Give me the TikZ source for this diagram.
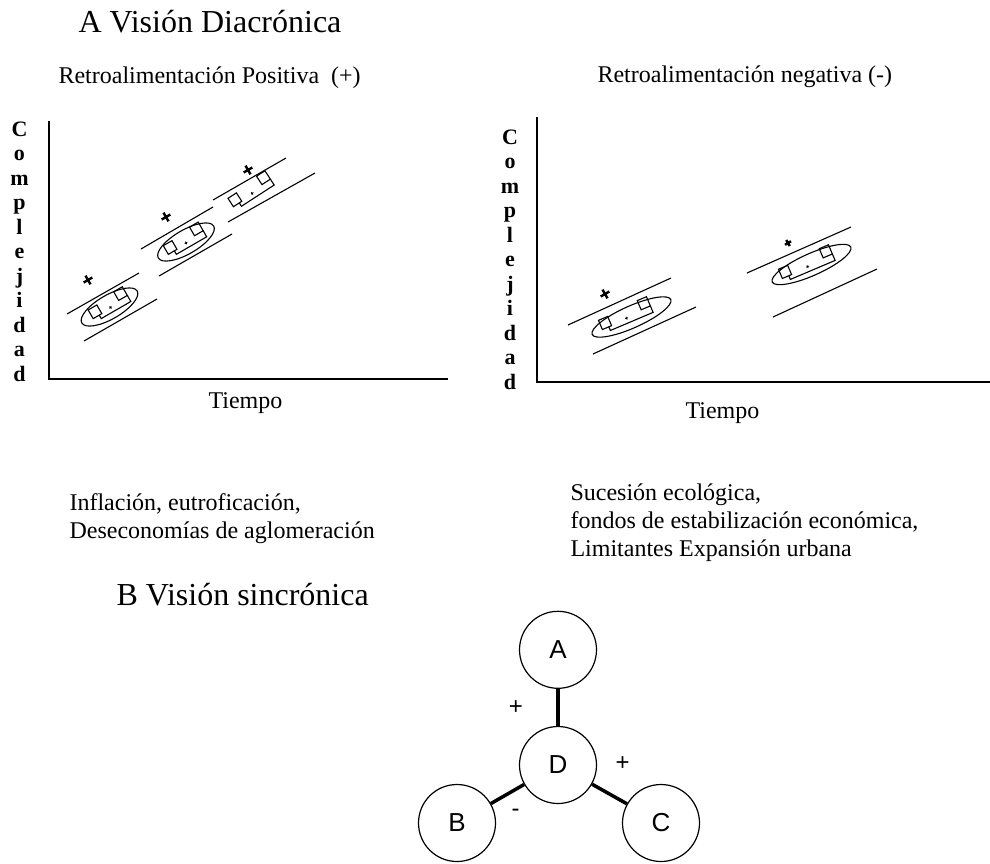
\documentclass[tikz,border=0pt]{standalone}
\usepackage{fontspec}
\setmainfont{Liberation Serif}
\newfontfamily\arial{Liberation Sans}
\usetikzlibrary{positioning}

% two small boxes tied under, with a little plus
\newcommand{\grupo}[4]{%
\begin{scope}[shift={(#1,#2)},rotate=#3]
\draw (-#4-5,-5) rectangle (-#4+5,5);
\draw (#4-5,-8) rectangle (#4+5,2);
\draw (-#4+2,5) -- (-#4+2,9) -- (#4+5,9) -- (#4+5,2);
\draw[line width=0.8pt] (-1.5,4) -- (1.5,4) (0,2.5) -- (0,5.5);
\end{scope}}
\newcommand{\marca}[3]{\draw[line width=2.4pt,rotate around={30:(#1,#2)}] (#1-#3,#2) -- (#1+#3,#2) (#1,#2-#3) -- (#1,#2+#3);}

\begin{document}
\begin{tikzpicture}[x=1pt,y=-1pt,line width=1.1pt,
  titulo/.style={font=\fontsize{32}{38}\selectfont,anchor=base west,inner sep=0},
  texto/.style={font=\fontsize{24}{28}\selectfont,anchor=base west,inner sep=0,align=left},
  letras/.style={font=\bfseries\fontsize{22}{24.5}\selectfont,anchor=north,inner sep=0,align=center},
  eje/.style={line width=1.4pt},
  nodo/.style={draw,circle,minimum size=77pt,inner sep=0,line width=1.2pt,font=\arial\fontsize{26}{30}\selectfont},
  enlace/.style={line width=3.5pt},
  signo/.style={font=\arial\fontsize{24}{28}\selectfont}]
\useasboundingbox (0,0) rectangle (990,863);

% A Vision Diacronica
\node[titulo] (tituloA) at (78,32) {A Visión Diacrónica};
\node[texto] (positiva) at (58,83) {Retroalimentación Positiva~ (+)};
\node[texto] (negativa) at (597,82) {Retroalimentación negativa (-)};

% left graph
\node[letras] (compizq) at (19.5,121) {C\\o\\m\\p\\l\\e\\j\\i\\d\\a\\d};
\draw[eje] (49,121) -- (49,379) -- (448,379);
\node[texto] (tiempoizq) at (208,408) {Tiempo};
\draw (67,314) -- (139,273);
\draw (84,341) -- (157,299);
\draw (141,249) -- (213,207);
\draw (159,276) -- (232,234);
\draw (213,200) -- (286,158);
\draw (228,222) -- (315,173);
\draw[rotate around={30:(109.5,307)}] (109.5,307) ellipse (32 and 12);
\draw[rotate around={30:(186,242)}] (186,242) ellipse (32 and 12);
\grupo{108.5}{304}{30}{15.6}
\grupo{184}{239.5}{30}{16}
\grupo{250}{190}{33}{18}
\marca{88}{280}{5}
\marca{166}{217}{5}
\marca{248}{170}{5}

% right graph
\node[letras] (compder) at (510,129) {C\\o\\m\\p\\l\\e\\j\\i\\d\\a\\d};
\draw[eje] (537,117) -- (537,382) -- (990,382);
\node[texto] (tiempoder) at (685,418) {Tiempo};
\draw (568,325) -- (671,278);
\draw (593,354) -- (696,307);
\draw (747,273) -- (851,227);
\draw (773,317) -- (877,269);
\draw[rotate around={24:(631.5,317)}] (631.5,317) ellipse (43 and 11);
\draw[rotate around={24:(811.5,264.5)}] (811.5,264.5) ellipse (43 and 11);
\grupo{625}{314.5}{23}{21.7}
\grupo{806}{263}{23}{22.8}
\marca{605}{294}{5}
\marca{788}{243}{3.5}

\node[texto] (ejemplosizq) at (69,538) {Inflación, eutroficación,\\Deseconomías de aglomeración};
\node[texto] (ejemplosder) at (570,556) {Sucesión ecológica,\\fondos de estabilización económica,\\Limitantes Expansión urbana};

% B Vision sincronica
\node[titulo] (tituloB) at (116,605) {B Visión sincrónica};
\node[nodo] (d) at (558,765) {D};
\node[nodo,above=37pt of d] (a) {A};
\node[nodo] (b) at (457,823) {B};
\node[nodo] (c) at (661,823) {C};
\draw[enlace] (a) -- node[signo,left=30pt] (mas1) {+} (d);
\draw[enlace] (d) -- node[signo,xshift=13pt,yshift=30pt] (mas2) {+} (c);
\draw[enlace] (d) -- node[signo,xshift=8pt,yshift=-19pt] (menos) {-} (b);
\end{tikzpicture}
\end{document}
